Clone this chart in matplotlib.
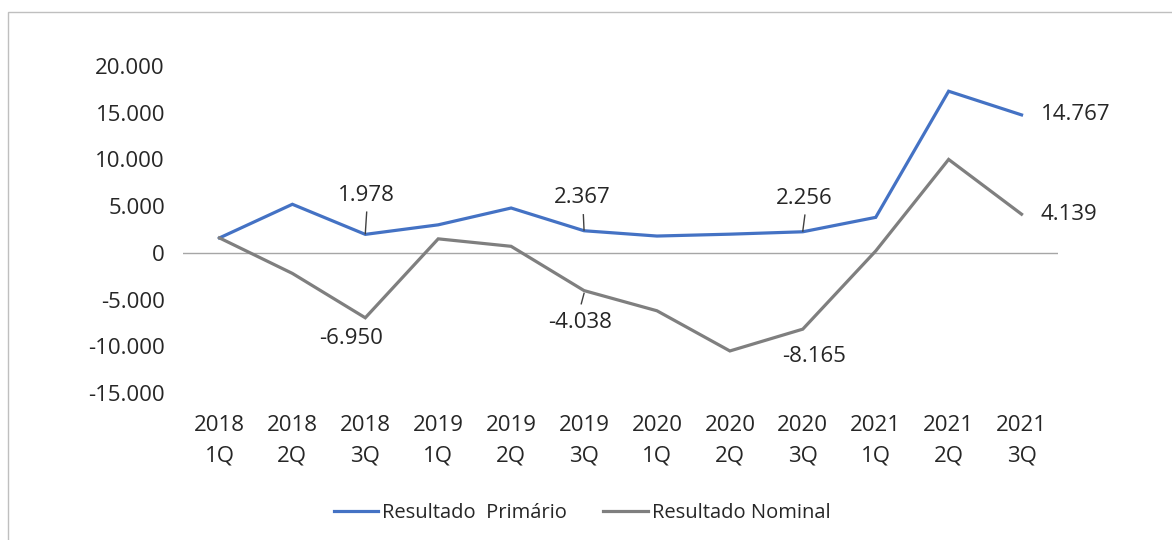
import matplotlib
matplotlib.use("Agg")
import matplotlib.pyplot as plt
import matplotlib.transforms as mtransforms
from matplotlib.patches import Rectangle
from matplotlib.lines import Line2D

categories = ["2018\n1Q", "2018\n2Q", "2018\n3Q", "2019\n1Q", "2019\n2Q", "2019\n3Q",
              "2020\n1Q", "2020\n2Q", "2020\n3Q", "2021\n1Q", "2021\n2Q", "2021\n3Q"]
primario = [1600, 5200, 1978, 3000, 4800, 2367, 1800, 2000, 2256, 3800, 17300, 14767]
nominal = [1600, -2200, -6950, 1500, 700, -4038, -6200, -10500, -8165, 200, 10000, 4139]
yticks = [-15000, -10000, -5000, 0, 5000, 10000, 15000, 20000]
ytick_labels = ["-15.000", "-10.000", "-5.000", "0", "5.000", "10.000", "15.000", "20.000"]

FONT = "Open Sans"
FS = 16
BLUE = "#4472C4"
GRAY = "#7F7F7F"
TXT = "#262626"

W, H = 1172, 540
fig = plt.figure(figsize=(W / 100, H / 100), dpi=100)

# outer border
fig.patches.append(Rectangle((8 / W, -0.01), 1.1, 1 - 12 / H + 0.01, transform=fig.transFigure,
                             fill=False, edgecolor="#BFBFBF", linewidth=1.0))

ax = fig.add_axes([183 / W, 1 - 393 / H, (1058 - 183) / W, (393 - 66) / H])
x = list(range(len(categories)))
ax.plot(x, primario, color=BLUE, linewidth=2.3, solid_joinstyle="miter", zorder=3)
ax.plot(x, nominal, color=GRAY, linewidth=2.3, solid_joinstyle="miter", zorder=3)
ax.axhline(0, color="#A6A6A6", linewidth=1.0, zorder=1)

ax.set_xlim(-0.5, len(categories) - 0.5)
ax.set_ylim(-15000, 20000)
ax.set_yticks(yticks)
ax.set_yticklabels(ytick_labels, fontsize=FS, family=FONT, color=TXT)
ax.set_xticks(x)
ax.set_xticklabels(categories, fontsize=FS, family=FONT, color=TXT, linespacing=1.55)
ax.tick_params(axis="both", length=0)
ax.tick_params(axis="y", pad=13)
ax.tick_params(axis="x", pad=16)
for s in ax.spines.values():
    s.set_visible(False)

lab = dict(fontsize=FS, family=FONT, color=TXT)


def label(i, series, txt, dx, dy, ha="center"):
    ax.annotate(txt, xy=(i, series[i]), xytext=(dx, dy), textcoords="offset points",
                ha=ha, va="center", **lab)


def leader(i, series, p0, p1):
    off0 = mtransforms.offset_copy(ax.transData, fig=fig, x=p0[0], y=p0[1], units="points")
    off1 = mtransforms.offset_copy(ax.transData, fig=fig, x=p1[0], y=p1[1], units="points")
    a = off0.transform((i, series[i]))
    b = off1.transform((i, series[i]))
    inv = fig.transFigure.inverted()
    a = inv.transform(a)
    b = inv.transform(b)
    fig.add_artist(Line2D([a[0], b[0]], [a[1], b[1]], transform=fig.transFigure,
                          color="#404040", linewidth=1.0))


label(2, primario, "1.978", 1, 28)
label(5, primario, "2.367", -1, 24)
label(8, primario, "2.256", 1, 24)
label(2, nominal, "-6.950", -10, -15)
label(5, nominal, "-4.038", -3, -23)
label(8, nominal, "-8.165", 8, -20)
label(11, primario, "14.767", 14, 0, ha="left")
label(11, nominal, "4.139", 14, 0, ha="left")

leader(2, primario, (0, 0.5), (1, 16))
leader(5, primario, (0, 0.5), (-0.5, 11.5))
leader(8, primario, (0, 0.5), (1.5, 12))
leader(5, nominal, (0, -2), (-2, -9.5))

LFS = 14.5
handles = [Line2D([], [], color=BLUE, linewidth=2.3), Line2D([], [], color=GRAY, linewidth=2.3)]
fig.legend(handles, ["Resultado  Primário", "Resultado Nominal"], loc="center",
           bbox_to_anchor=(582 / W, 1 - 513 / H), ncol=2, frameon=False,
           prop={"family": FONT, "size": LFS}, handlelength=2.2, columnspacing=1.8,
           handletextpad=0.2, labelcolor=TXT)

fig.savefig("out.png", dpi=100)
